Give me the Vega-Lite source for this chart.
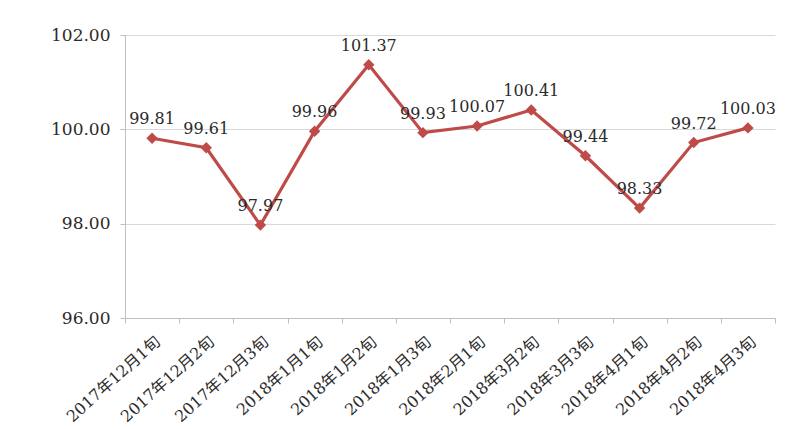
{
  "$schema": "https://vega.github.io/schema/vega-lite/v6.json",
  "autosize": {"type": "none"},
  "width": 650,
  "height": 283,
  "padding": {"left": 125, "top": 35, "right": 21, "bottom": 111},
  "background": "white",
  "config": {"view": {"stroke": null}},
  "data": {"values": [
    {"period": "2017年12月1旬", "value": 99.81},
    {"period": "2017年12月2旬", "value": 99.61},
    {"period": "2017年12月3旬", "value": 97.97},
    {"period": "2018年1月1旬", "value": 99.96},
    {"period": "2018年1月2旬", "value": 101.37},
    {"period": "2018年1月3旬", "value": 99.93},
    {"period": "2018年2月1旬", "value": 100.07},
    {"period": "2018年3月2旬", "value": 100.41},
    {"period": "2018年3月3旬", "value": 99.44},
    {"period": "2018年4月1旬", "value": 98.33},
    {"period": "2018年4月2旬", "value": 99.72},
    {"period": "2018年4月3旬", "value": 100.03}
  ]},
  "encoding": {
    "x": {"field": "period", "type": "nominal", "sort": null,
      "scale": {"paddingInner": 0, "paddingOuter": 0},
      "axis": {"title": null, "labelAngle": -42, "labelFont": "DejaVu Serif, Noto Sans CJK SC", "labelFontSize": 16,
        "labelColor": "#2b2b2b", "labelPadding": 10, "domainColor": "#bfbfbf", "tickColor": "#bfbfbf",
        "tickBand": "extent", "tickSize": 5, "grid": false}},
    "y": {"field": "value", "type": "quantitative",
      "scale": {"domain": [96, 102], "nice": false, "zero": false},
      "axis": {"title": null, "values": [96, 98, 100, 102], "format": ".2f", "labelFont": "DejaVu Serif",
        "labelFontSize": 17, "labelColor": "#2b2b2b", "labelPadding": 10, "domainColor": "#bfbfbf",
        "tickColor": "#bfbfbf", "tickSize": 5, "gridColor": "#d9d9d9", "gridWidth": 1.2}}
  },
  "layer": [
    {"mark": {"type": "line", "color": "#BE4B48", "strokeWidth": 3.2}},
    {"mark": {"type": "point", "shape": "diamond", "filled": true, "color": "#BE4B48", "size": 130, "opacity": 1}},
    {"mark": {"type": "text", "dy": -19, "font": "DejaVu Serif", "fontSize": 16, "color": "#2b2b2b"},
      "encoding": {"text": {"field": "value", "type": "quantitative", "format": ".2f"}}}
  ]
}
